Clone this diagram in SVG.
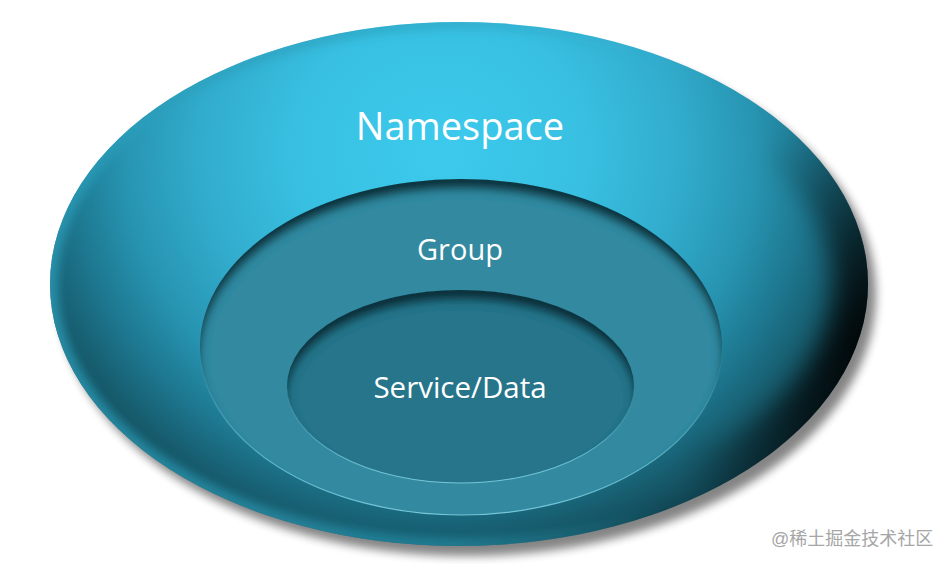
<svg xmlns="http://www.w3.org/2000/svg" width="951" height="564" viewBox="0 0 951 564">
<defs>
<style>
.lbl{font-family:"Open Sans","Noto Sans","Liberation Sans",sans-serif;fill:#ffffff;text-anchor:middle}
.wm{font-family:"Liberation Sans","Noto Sans CJK SC",sans-serif;fill:#a6a6a6;font-size:18px}
</style>
<radialGradient id="gOuter" gradientUnits="userSpaceOnUse" cx="0" cy="0" r="1" gradientTransform="translate(440 150) scale(480 440)">
<stop offset="0" stop-color="#3ccaec"/>
<stop offset="0.3" stop-color="#38c0e2"/>
<stop offset="0.5" stop-color="#32accd"/>
<stop offset="0.66" stop-color="#2794b1"/>
<stop offset="0.78" stop-color="#1d768e"/>
<stop offset="0.9" stop-color="#155565"/>
<stop offset="1" stop-color="#0c3440"/>
</radialGradient>
<linearGradient id="rimOuter" gradientUnits="userSpaceOnUse" x1="50" y1="0" x2="868" y2="0">
<stop offset="0" stop-color="#2b9fbb" stop-opacity="0.75"/>
<stop offset="0.5" stop-color="#2b9fbb" stop-opacity="0.5"/>
<stop offset="0.75" stop-color="#2b9fbb" stop-opacity="0"/>
</linearGradient>
<radialGradient id="darkRight" gradientUnits="userSpaceOnUse" cx="885" cy="350" r="240">
<stop offset="0" stop-color="#000" stop-opacity="0.95"/>
<stop offset="0.45" stop-color="#000" stop-opacity="0.6"/>
<stop offset="1" stop-color="#000" stop-opacity="0"/>
</radialGradient>
<linearGradient id="rim" x1="0" y1="0" x2="0" y2="1">
<stop offset="0.5" stop-color="#7fd0e2" stop-opacity="0"/>
<stop offset="1" stop-color="#7fd0e2" stop-opacity="0.9"/>
</linearGradient>
<clipPath id="clipOuter"><ellipse cx="459" cy="284" rx="409" ry="262"/></clipPath>
<filter id="drop" x="-10%" y="-10%" width="120%" height="120%">
<feGaussianBlur stdDeviation="5"/>
</filter>
<filter id="soft" x="-10%" y="-10%" width="120%" height="120%">
<feGaussianBlur stdDeviation="5"/>
</filter>
<filter id="soft2" x="-10%" y="-10%" width="120%" height="120%">
<feGaussianBlur stdDeviation="12"/>
</filter>
<filter id="inset" x="-5%" y="-5%" width="110%" height="110%">
<feOffset in="SourceAlpha" dy="10" result="off"/>
<feGaussianBlur in="off" stdDeviation="4" result="blur"/>
<feComposite in="SourceAlpha" in2="blur" operator="out" result="edge"/>
<feFlood flood-color="#0b2a33" flood-opacity="0.95"/>
<feComposite in2="edge" operator="in" result="shadow"/>
<feMerge><feMergeNode in="SourceGraphic"/><feMergeNode in="shadow"/></feMerge>
</filter>
</defs>
<rect width="951" height="564" fill="#ffffff"/>
<g id="namespace">
<ellipse cx="467" cy="294" rx="409" ry="262" fill="#000" opacity="0.48" filter="url(#drop)"/>
<ellipse cx="459" cy="284" rx="409" ry="262" fill="url(#gOuter)"/>
<g clip-path="url(#clipOuter)">
<ellipse cx="459" cy="284" rx="409" ry="262" fill="none" stroke="url(#darkRight)" stroke-width="70" filter="url(#soft2)"/>
<ellipse cx="459" cy="284" rx="409" ry="262" fill="none" stroke="url(#rimOuter)" stroke-width="16" filter="url(#soft)"/>
</g>
<text class="lbl" x="460" y="140" font-size="38">Namespace</text>
</g>
<g id="group">
<ellipse cx="461" cy="347" rx="261" ry="168" fill="#3089a0" filter="url(#inset)"/>
<ellipse cx="461" cy="347" rx="261" ry="168" fill="none" stroke="url(#rim)" stroke-width="1.2"/>
<text class="lbl" x="460" y="260" font-size="29">Group</text>
</g>
<g id="service">
<ellipse cx="460.5" cy="386.5" rx="173.5" ry="96.5" fill="#28758a" filter="url(#inset)"/>
<ellipse cx="460.5" cy="386.5" rx="173.5" ry="96.5" fill="none" stroke="url(#rim)" stroke-width="1.2"/>
<text class="lbl" x="460" y="398" font-size="29.5">Service/Data</text>
</g>
<g id="connectors"/>
<text class="wm" x="771" y="545">@稀土掘金技术社区</text>
</svg>
